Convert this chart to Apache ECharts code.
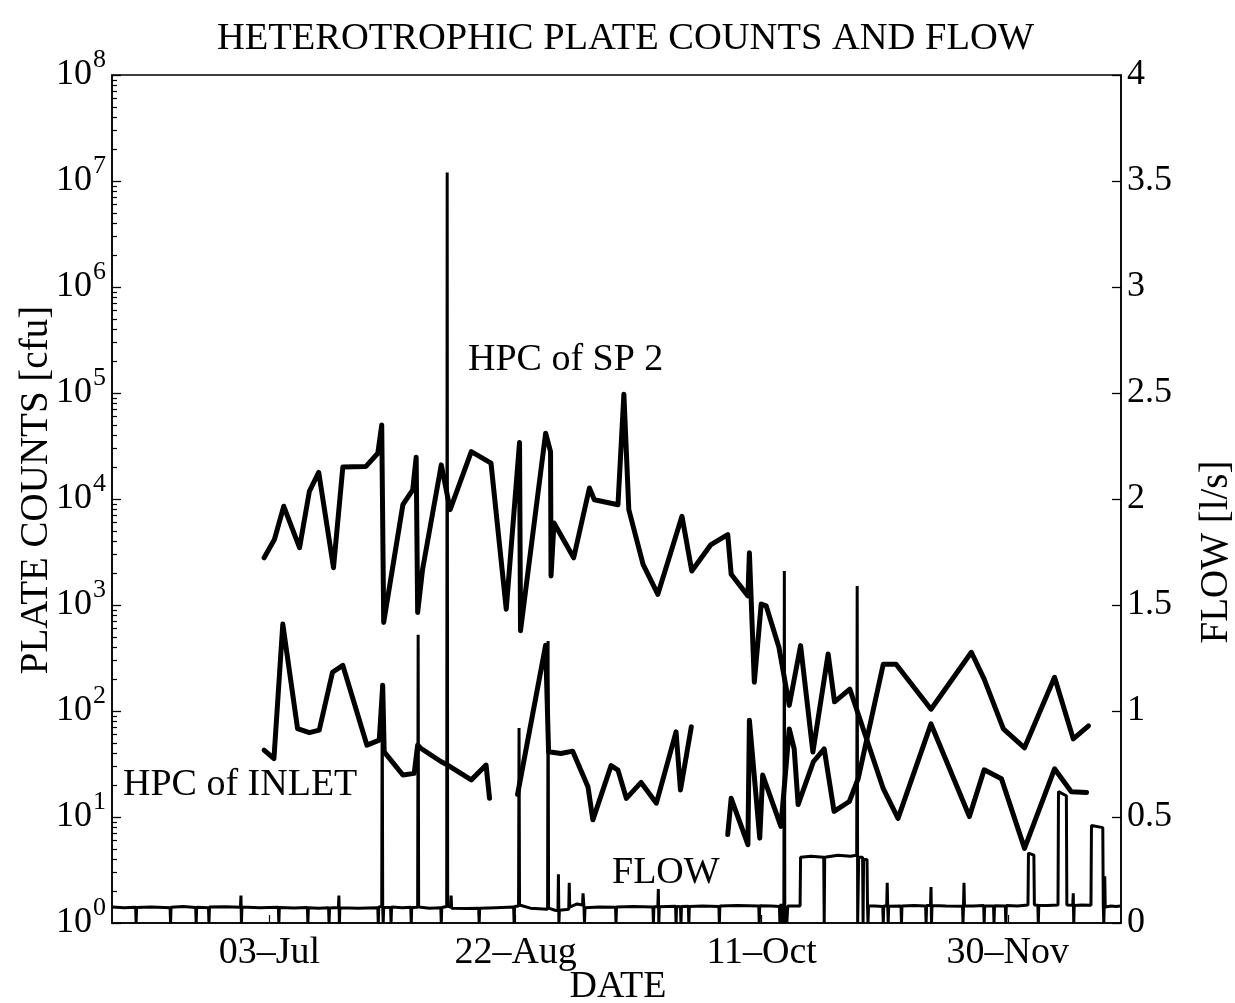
<!DOCTYPE html>
<html><head><meta charset="utf-8">
<script src="https://cdn.jsdelivr.net/npm/echarts@6/dist/echarts.min.js"></script>
<style>html,body{margin:0;padding:0;background:#fff}#c{width:1235px;height:1003px}</style>
</head><body><div id="c"></div>
<script>
// ---- data (x = day of year) ----
const tickDays = [184, 234, 284, 334];
const tickLabels = ['03\u2013Jul', '22\u2013Aug', '11\u2013Oct', '30\u2013Nov'];
const leftTickValues = [1, 10, 100, 1000, 1e4, 1e5, 1e6, 1e7, 1e8];

const sp2Days = [182.9,185.0,186.9,190.1,192.1,194.0,197.0,198.9,203.6,206.0,206.8,207.2,209.4,211.1,213.1,213.8,214.1,215.1,218.9,220.7,225.0,229.0,232.1,234.8,235.0,240.1,241.1,241.2,241.8,245.8,249.0,250.0,254.8,256.0,257.0,259.9,262.9,267.8,269.8,273.7,277.1,277.8,281.2,281.5,282.5,283.9,284.9,287.5,289.6,291.9,294.4,297.5,298.8,301.9,308.7,311.7,318.4,326.2,329.2,332.7,337.4,343.5,346.9,350.0];
const sp2Values = [2790,4150,8540,3470,11800,17800,2250,20000,20300,27000,49900,685,2900,8830,12200,24800,850,2170,21000,7940,28000,21800,914,34100,573,41700,28000,1880,5950,2790,12700,9850,8830,97500,7940,2420,1260,6870,2090,3720,4620,1950,1220,3110,187,1020,983,399,113,414,41,345,122,161,18.5,9.7,75.5,10.1,27.9,23.0,5.06,28.5,17.3,17.0];

const inletDays = [182.9,184.9,186.7,189.7,192.1,194.1,196.8,198.9,203.8,206.3,207.0,207.3,211.1,213.4,214.1,214.8,218.9,220.2,225.0,228.0,228.7,null,234.4,240.1,240.7,243.2,245.6,248.7,249.7,253.4,254.8,256.5,259.5,262.6,266.6,267.5,269.7,null,277.1,277.8,281.2,281.5,283.6,284.2,287.9,289.6,290.6,291.4,294.5,296.7,298.7,301.8,303.6,304.8,308.7,311.3,318.4,326.6,329.2,333.1,337.4,343.5,347.3,350.4];
const inletValues = [42.8,35.6,661,68.2,62.5,65.9,232,269,47.6,53.1,175,41.2,24.9,25.8,47.6,44.3,33.2,30.9,22.4,30.9,15.0,null,16.3,417,41.2,39.7,41.8,19.3,9.4,30.5,27.7,15.0,21.2,13.5,63.5,18.0,70.8,null,6.85,15.0,5.48,81.8,6.32,24.9,8.15,67.7,44.0,13.1,33.2,44.0,11.3,14.0,23.0,41.2,276,276,104,358,200,67.7,45,208,54.6,72.3];

const flowDays = [152.0,154.5,156.8,156.9,157.0,160.0,163.8,163.9,164.0,166.5,169.0,169.1,169.2,171.6,171.7,171.8,175.0,178.1,178.2,178.3,178.4,182.0,185.8,185.9,186.0,189.0,191.7,191.8,191.9,194.0,196.0,196.1,196.2,198.0,198.1,198.2,198.3,202.0,206.0,206.1,206.2,206.8,206.9,207.0,207.1,207.2,208.6,208.7,208.8,211.0,212.7,212.8,212.9,214.1,214.2,214.3,216.5,218.8,218.9,219.0,220.0,220.1,220.2,220.8,220.9,221.0,224.0,226.5,226.6,226.7,230.0,233.6,233.7,233.8,234.6,234.7,234.8,237.0,240.5,240.6,240.7,242.0,242.6,242.7,242.8,242.9,244.8,244.9,245.0,246.5,247.6,247.7,247.9,248.0,248.1,251.0,254.3,254.4,254.5,258.0,261.9,262.0,262.1,262.9,263.0,263.1,263.2,266.5,266.6,266.7,267.5,267.6,267.7,269.1,269.2,269.3,272.0,275.3,275.4,275.5,279.0,283.4,283.5,283.6,286.0,287.6,287.7,287.9,288.1,288.3,288.5,288.6,288.7,288.9,289.1,289.3,291.8,291.9,294.0,296.6,296.7,296.8,299.5,302.0,303.3,303.4,303.5,303.7,304.5,304.6,304.7,305.4,305.5,305.6,305.7,307.0,308.6,308.7,308.8,309.4,309.5,309.6,309.7,309.8,312.3,312.4,312.5,315.0,317.3,317.4,317.5,318.3,318.4,318.5,318.6,321.5,324.8,324.9,325.0,325.1,325.2,327.0,329.1,329.2,329.3,331.1,331.2,331.3,333.5,333.6,333.7,336.0,338.1,338.2,339.3,339.4,340.1,340.2,340.3,342.0,344.2,344.3,345.9,346.0,347.2,347.3,347.4,347.5,349.0,350.9,351.0,353.3,353.4,353.5,353.6,353.7,353.8,355.0,356.0,356.8];
const flowValues = [0.075,0.072,0.074,0,0.073,0.076,0.072,0,0.074,0.078,0.073,0,0.074,0.072,0,0.075,0.077,0.074,0.13,0,0.075,0.072,0.074,0,0.073,0.071,0.073,0,0.072,0.07,0.072,0,0.071,0.073,0.13,0,0.072,0.07,0.072,0,0.075,0.08,1.13,0.07,0,0.074,0.073,0,0.075,0.072,0.074,0,0.073,0.074,1.36,0.075,0.07,0.072,0,0.073,0.078,3.54,0.08,0.075,0.13,0.07,0.068,0.07,0,0.069,0.072,0.075,0,0.078,0.08,0.92,0.085,0.07,0.065,1.33,0.07,0.06,0.058,0.23,0,0.06,0.065,0.19,0.075,0.09,0.085,0.14,0.07,0,0.072,0.075,0.074,0,0.076,0.078,0.076,0,0.077,0.078,0.16,0,0.077,0.079,0,0.078,0.077,0,0.078,0.079,0,0.078,0.08,0.078,0,0.08,0.082,0.08,0,0.081,0.08,0.078,0,0.09,0,0.08,0.02,1.66,0,0.07,0,0.08,0.08,0.31,0.315,0.31,0,0.31,0.32,0.315,0.32,1.59,0,0.31,0.31,0,0.3,0.3,0.08,0,0.08,0.08,0.078,0,0.08,0.08,0.19,0.08,0,0.079,0.08,0,0.08,0.082,0.08,0,0.082,0.082,0.17,0,0.082,0.08,0.079,0,0.08,0.19,0.08,0.08,0.082,0,0.08,0.08,0,0.081,0.08,0,0.082,0.08,0.085,0.33,0.32,0.085,0.084,0,0.083,0.082,0.085,0.62,0.6,0.085,0.084,0.14,0,0.083,0.085,0.084,0.46,0.45,0.08,0,0.08,0.22,0.075,0.08,0.078,0.08];

// ---- build ----
const FONT = '"Liberation Serif", "DejaVu Serif", serif';
const zip = (xs, ys) => xs.map((x, i) => (x === null || ys[i] === null) ? ['-', '-'] : [x, ys[i]]);
// minor tick positions of the log axis, expressed as decades on a hidden 0..8 axis
const minorTickPos = [];
for (let e = 0; e < 8; e++) for (let k = 2; k <= 9; k++) minorTickPos.push(e + Math.log10(k));

const chart = echarts.init(document.getElementById('c'), null, {renderer: 'canvas'});
const black = '#000';
chart.setOption({
  animation: false,
  backgroundColor: '#fff',
  title: {
    text: 'HETEROTROPHIC PLATE COUNTS AND FLOW',
    left: 212, top: 14,
    textStyle: {fontFamily: FONT, fontSize: 38.5, fontWeight: 'normal', color: black}
  },
  grid: {left: 112, right: 114, top: 75, bottom: 80, show: true, borderColor: black, borderWidth: 1.5,
         backgroundColor: 'transparent', containLabel: false, outerBoundsMode: 'none'},
  xAxis: {
    type: 'value', min: 152, max: 357,
    axisLine: {show: true, lineStyle: {color: black, width: 1.5}},
    axisTick: {show: true, inside: true, length: 8, customValues: tickDays, lineStyle: {color: black, width: 1.2}},
    axisLabel: {customValues: tickDays, formatter: v => tickLabels[tickDays.indexOf(v)], fontFamily: FONT, fontSize: 38, color: black, margin: 11},
    splitLine: {show: false}
  },
  yAxis: [
    {
      type: 'log', logBase: 10, min: 1, max: 1e8, position: 'left',
      axisLine: {show: true, lineStyle: {color: black, width: 1.5}},
      axisTick: {show: true, inside: true, length: 9, customValues: leftTickValues, lineStyle: {color: black, width: 1.3}},
      axisLabel: {
        customValues: leftTickValues, margin: 6, color: black,
        formatter: v => '{b|10}{s|' + Math.round(Math.log10(v)) + '}',
        rich: {
          b: {fontFamily: FONT, fontSize: 36, color: black, lineHeight: 36},
          s: {fontFamily: FONT, fontSize: 26, color: black, lineHeight: 26, padding: [0, 0, 30, 1]}
        }
      },
      splitLine: {show: false}
    },
    {
      type: 'value', min: 0, max: 4, interval: 0.5, position: 'right',
      axisLine: {show: true, lineStyle: {color: black, width: 1.5}},
      axisTick: {show: true, inside: true, length: 9, lineStyle: {color: black, width: 1.3}},
      axisLabel: {fontFamily: FONT, fontSize: 36, color: black, margin: 6},
      splitLine: {show: false}
    },
    {
      type: 'value', min: 0, max: 8, position: 'left',
      axisLine: {show: false},
      axisTick: {show: true, inside: true, length: 5, customValues: minorTickPos, lineStyle: {color: black, width: 1.2}},
      axisLabel: {show: false},
      splitLine: {show: false}
    }
  ],
  graphic: [
    {type: 'text', x: 618, y: 987, style: {text: 'DATE', font: '38px ' + FONT, fill: black, align: 'center', verticalAlign: 'middle'}},
    {type: 'text', x: 37, y: 490, rotation: Math.PI / 2, style: {text: 'PLATE COUNTS [cfu]', font: '39px ' + FONT, fill: black, align: 'center', verticalAlign: 'middle'}},
    {type: 'text', x: 1217, y: 552, rotation: Math.PI / 2, style: {text: 'FLOW [l/s]', font: '39px ' + FONT, fill: black, align: 'center', verticalAlign: 'middle'}},
    {type: 'text', x: 468, y: 360, style: {text: 'HPC of SP 2', font: '38px ' + FONT, fill: black, verticalAlign: 'middle'}},
    {type: 'text', x: 123, y: 785, style: {text: 'HPC of INLET', font: '38px ' + FONT, fill: black, verticalAlign: 'middle'}},
    {type: 'text', x: 612, y: 873, style: {text: 'FLOW', font: '38px ' + FONT, fill: black, verticalAlign: 'middle'}}
  ],
  series: [
    {name: 'FLOW', type: 'line', yAxisIndex: 1, data: zip(flowDays, flowValues), showSymbol: false, symbol: 'none',
     lineStyle: {color: black, width: 3}, z: 2},
    {name: 'HPC of SP 2', type: 'line', yAxisIndex: 0, data: zip(sp2Days, sp2Values), showSymbol: false, symbol: 'none',
     lineStyle: {color: black, width: 5, join: 'round', cap: 'round'}, z: 3},
    {name: 'HPC of INLET', type: 'line', yAxisIndex: 0, data: zip(inletDays, inletValues), showSymbol: false, symbol: 'none', connectNulls: false,
     lineStyle: {color: black, width: 5, join: 'round', cap: 'round'}, z: 3}
  ]
});
</script></body></html>
